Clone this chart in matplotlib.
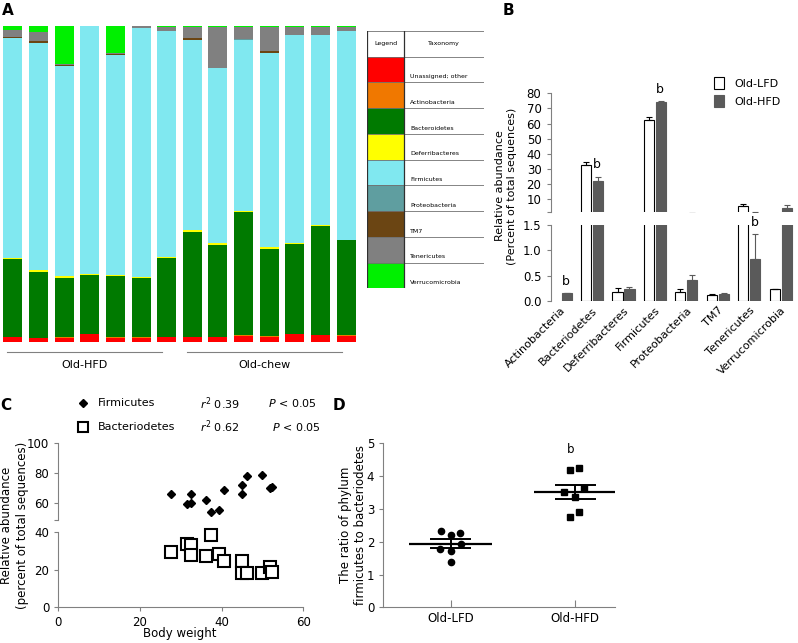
import matplotlib

matplotlib.use('Agg')

import matplotlib.pyplot as plt
import numpy as np
from matplotlib.patches import Patch, Rectangle
from matplotlib.lines import Line2D

W, H = 798, 643

# ---- Panel A: relative abundance per mouse (bottom -> top) ----
taxa = ["Unassigned; other", "Actinobacteria", "Bacteroidetes", "Deferribacteres",
        "Firmicutes", "Proteobacteria", "TM7", "Tenericutes", "Verrucomicrobia"]
taxa_colors = ["#FF0000", "#F07800", "#007A00", "#FFFF00", "#80E8F0",
               "#5F9EA0", "#6B4513", "#808080", "#00F000"]
unassigned = [1.4, 1.2, 1.3, 2.3, 1.3, 1.3, 1.4, 1.4, 1.4, 1.9, 1.4, 2.4, 2.0, 1.9]
actinobacteria = [0.1, 0.1, 0.1, 0.1, 0.3, 0.1, 0.1, 0.1, 0.1, 0.1, 0.3, 0.1, 0.1, 0.1]
bacteroidetes = [24.7, 20.8, 18.9, 18.7, 19.3, 18.7, 25.1, 33.3, 29.2, 39.0, 27.6, 28.5, 34.6, 30.1]
deferribacteres = [0.4, 0.5, 0.4, 0.3, 0.3, 0.3, 0.2, 0.6, 0.5, 0.5, 0.6, 0.2, 0.2, 0.2]
firmicutes = [69.5, 72.0, 66.5, 78.5, 69.6, 78.9, 71.6, 60.2, 55.4, 54.2, 61.6, 65.9, 60.2, 66.0]
proteobacteria = [0.1] * 14
tm7 = [0.4, 0.4, 0.4, 0.0, 0.3, 0.0, 0.0, 0.4, 0.0, 0.0, 0.5, 0.0, 0.0, 0.0]
tenericutes = [2.1, 2.9, 0.3, 0.0, 0.2, 0.6, 1.1, 3.5, 13.0, 3.9, 7.6, 2.4, 2.6, 1.2]
verrucomicrobia = [1.3, 2.0, 12.0, 0.0, 8.6, 0.0, 0.4, 0.4, 0.3, 0.3, 0.3, 0.4, 0.2, 0.4]
groups_a = ["Old-HFD", "Old-chew"]

# ---- Panel B: phylum abundance, mean and SEM ----
b_cats = ["Actinobacteria", "Bacteriodetes", "Deferribacteres", "Firmicutes",
          "Proteobacteria", "TM7", "Tenericutes", "Verrucomicrobia"]
lfd_mean = [0.0, 32.2, 0.18, 62.2, 0.18, 0.12, 5.4, 0.23]
lfd_err = [0.0, 2.2, 0.07, 1.8, 0.06, 0.01, 1.1, 0.0]
hfd_mean = [0.15, 22.2, 0.23, 74.0, 0.41, 0.14, 0.82, 4.2]
hfd_err = [0.01, 2.2, 0.05, 0.6, 0.10, 0.01, 0.50, 1.8]
b_sig = [(0, 0.38), (1, 32.6), (3, 82.6), (6, 1.54)]  # (category, height) of "b" on HFD bar

# ---- Panel C: abundance vs body weight ----
body_weight = [27.5, 31.6, 32.4, 32.4, 36.2, 37.3, 39.4, 40.6, 45.0, 45.0, 46.1, 50.0, 51.9, 52.3]
firm_pct = [66.0, 59.5, 66.0, 60.0, 62.2, 54.2, 55.5, 68.9, 72.0, 66.0, 78.2, 79.0, 70.0, 71.0]
bact_pct = [29.3, 33.7, 33.2, 27.8, 27.3, 38.5, 28.2, 24.5, 24.5, 18.4, 18.4, 18.2, 21.3, 18.8]

# ---- Panel D: Firmicutes / Bacteroidetes ratio ----
d_groups = ["Old-LFD", "Old-HFD"]
ratio_lfd = [2.33, 2.20, 2.26, 1.92, 1.77, 1.72, 1.39]
ratio_hfd = [4.19, 4.25, 3.52, 3.63, 3.37, 2.76, 2.90]

plt.rcParams.update({
    'font.family': 'DejaVu Sans',
    'font.size': 8,
    'axes.edgecolor': '#808080',
    'axes.linewidth': 0.8,
    'xtick.color': '#808080',
    'ytick.color': '#808080',
    'xtick.labelcolor': 'black',
    'ytick.labelcolor': 'black',
    'xtick.major.size': 3,
    'ytick.major.size': 3,
})

fig = plt.figure(figsize=(W / 100, H / 100), dpi=100)


def px_axes(l, t, r, b):
    """Axes from pixel box (left, top, right, bottom), origin top-left."""
    return fig.add_axes([l / W, 1 - b / H, (r - l) / W, (b - t) / H])


def panel_letter(x, y, s):
    fig.text(x / W, 1 - y / H, s, fontsize=11, fontweight='bold', va='top', ha='left')


# ================= A =================
axA = px_axes(0, 26, 359, 341.7)
comp = [unassigned, actinobacteria, bacteroidetes, deferribacteres, firmicutes,
        proteobacteria, tm7, tenericutes, verrucomicrobia]
xa = np.arange(len(unassigned))
bottom = np.zeros(len(xa))
for vals, col in zip(comp, taxa_colors):
    axA.bar(xa, vals, 0.74, bottom=bottom, color=col, linewidth=0)
    bottom += np.array(vals)
axA.set_xlim(-0.5, 13.5)
axA.set_ylim(0, 100)
axA.axis('off')
tr = axA.get_xaxis_transform()
for (x0, x1), name in zip([(-0.23, 5.81), (6.81, 12.84)], groups_a):
    axA.plot([x0, x1], [-0.034, -0.034], color='#808080', lw=0.8, transform=tr, clip_on=False)
    axA.text((x0 + x1) / 2, -0.074, name, transform=tr, ha='center', va='center', fontsize=8)

# legend table
axT = px_axes(367.3, 31, 484.3, 288.3)
axT.set_xlim(0, 1)
axT.set_ylim(10, 0)
axT.axis('off')
split = 0.314
for i, (name, col) in enumerate(zip(taxa, taxa_colors)):
    axT.add_patch(Rectangle((0, i + 1), split, 1, color=col, lw=0))
    axT.text(split + 0.05, i + 1.78, name, fontsize=4.5, va='center', ha='left')
for k in range(11):
    axT.plot([0, 1], [k, k], color='#707070', lw=0.6)
axT.plot([0, 0], [0, 10], color='#303030', lw=0.9)
axT.plot([split, split], [0, 10], color='#303030', lw=0.9)
axT.plot([1, 1], [0, 10], color='#707070', lw=0.6)
axT.text(split / 2, 0.5, "Legend", fontsize=4.5, ha='center', va='center')
axT.text((split + 1) / 2, 0.5, "Taxonomy", fontsize=4.5, ha='center', va='center')

# ================= B =================
xb = np.arange(len(b_cats))
off, bw = 0.19, 0.32
axBu = px_axes(550.5, 93.3, 795, 212.3)
axBl = px_axes(550.5, 225, 795, 301)
lfd_m = np.array(lfd_mean)
lfd_e = np.array(lfd_err)
hfd_m = np.array(hfd_mean)
hfd_e = np.array(hfd_err)
has_lfd = lfd_m > 0
for ax in (axBu, axBl):
    ax.bar(xb[has_lfd] - off, lfd_m[has_lfd], bw, color='white', edgecolor='black', linewidth=0.8,
           yerr=[np.zeros(has_lfd.sum()), lfd_e[has_lfd]], capsize=2.5,
           error_kw=dict(ecolor='black', elinewidth=0.8, capthick=0.8))
    ax.bar(xb + off, hfd_m, bw, color='#5A5A5A', edgecolor='#5A5A5A', linewidth=0.8,
           yerr=[np.zeros(len(xb)), hfd_e], capsize=2.5,
           error_kw=dict(ecolor='#5A5A5A', elinewidth=0.8, capthick=0.8))
    ax.set_xlim(-0.32, 7.45)
    for s in ('top', 'right', 'bottom'):
        ax.spines[s].set_visible(False)
    ax.tick_params(axis='y', labelsize=8.5, length=3)
axBu.set_ylim(1.2, 80)
axBu.set_yticks([1.2, 10, 20, 30, 40, 50, 60, 70, 80])
axBu.set_yticklabels([''] + [str(v) for v in range(10, 90, 10)])
axBu.set_xticks([])
axBl.set_ylim(0, 1.5)
axBl.set_yticks([0, 0.5, 1.0, 1.5])
axBl.set_yticklabels(['0.0', '0.5', '1.0', '1.5'])
axBl.set_xticks(xb)
axBl.set_xticklabels(b_cats, rotation=45, ha='right', rotation_mode='anchor', fontsize=8)
axBl.tick_params(axis='x', length=0, pad=3)
for cat, yv in b_sig:
    ax = axBu if yv > 1.6 else axBl
    ax.text(cat + off - 0.03, yv, 'b', ha='center', va='center', fontsize=9, clip_on=False)
fig.text(506 / W, 1 - 186 / H, "Relative abundance\n(Percent of total sequences)",
         rotation=90, ha='center', va='center', fontsize=8, linespacing=1.3)
axBu.legend(handles=[Patch(facecolor='white', edgecolor='black', lw=0.8, label='Old-LFD'),
                     Patch(facecolor='#5A5A5A', edgecolor='#5A5A5A', lw=0.8, label='Old-HFD')],
            loc='upper left', bbox_to_anchor=(714 / W, 1 - 77 / H), bbox_transform=fig.transFigure,
            frameon=False, fontsize=8, handlelength=0.9, handleheight=1.3, handletextpad=0.9,
            labelspacing=0.55, borderaxespad=0, borderpad=0)

# ================= C =================
axCu = px_axes(58.3, 443.3, 303.3, 520)
axCl = px_axes(58.3, 532.3, 303.3, 607.3)
axCu.set_ylim(48.9, 100)
axCl.set_ylim(0, 40)
bw_arr = np.array(body_weight)
firm_arr = np.array(firm_pct)
bact_arr = np.array(bact_pct)
for ax in (axCu, axCl):
    lo, hi = ax.get_ylim()
    fm = (firm_arr >= lo) & (firm_arr <= hi)
    bm = (bact_arr >= lo) & (bact_arr <= hi)
    ax.plot(bw_arr[fm], firm_arr[fm], 'D', color='black', ms=4.5, ls='none', clip_on=False)
    ax.plot(bw_arr[bm], bact_arr[bm], 's', mfc='white', mec='black', mew=1.5, ms=8, ls='none',
            clip_on=False)
    ax.set_xlim(0, 60)
    ax.set_ylim(lo, hi)
    for s in ('top', 'right'):
        ax.spines[s].set_visible(False)
    ax.tick_params(labelsize=8.5)
axCu.set_yticks([48.9, 60, 80, 100])
axCu.set_yticklabels(['', '60', '80', '100'])
axCu.spines['bottom'].set_visible(False)
axCu.set_xticks([])
axCl.set_yticks([0, 20, 40])
axCl.set_xticks([0, 20, 40, 60])
fig.text(180 / W, 1 - 633 / H, "Body weight", ha='center', va='center', fontsize=8.5)
fig.text(15 / W, 1 - 525 / H, "Relative abundance\n(percent of total sequences)",
         rotation=90, ha='center', va='center', fontsize=8.5, linespacing=1.3)
c_rows = [("Firmicutes", 'D', r"$\it{r}^2$ 0.39", 268), ("Bacteriodetes", 's', r"$\it{r}^2$ 0.62", 272)]
for i, (name, mk, r2, px_p) in enumerate(c_rows):
    yy = 1 - (403.3 + 23.4 * i) / H
    if mk == 'D':
        fig.add_artist(Line2D([82.7 / W], [yy], marker='D', color='black', ms=4.2,
                              transform=fig.transFigure))
    else:
        fig.add_artist(Line2D([82.7 / W], [yy], marker='s', mfc='white', mec='black', mew=1.5,
                              ms=7, transform=fig.transFigure))
    fig.text(98.3 / W, yy, name, va='center', ha='left', fontsize=8)
    fig.text(200 / W, yy, r2, va='center', ha='left', fontsize=8)
    fig.text(px_p / W, yy, r"$\it{P}$ < 0.05", va='center', ha='left', fontsize=8)

# ================= D =================
axD = px_axes(383.3, 443.3, 615, 607.3)
lfd_dx = [-0.08, 0.0, 0.075, 0.083, -0.086, 0.0, 0.0]
hfd_dx = [-0.04, 0.03, -0.09, 0.075, 0.0, -0.04, 0.03]
axD.plot(1 + np.array(lfd_dx), ratio_lfd, 'o', color='black', ms=4.5, ls='none')
axD.plot(2 + np.array(hfd_dx), ratio_hfd, 's', color='black', ms=5, ls='none')
for xc, vals in zip([1, 2], [ratio_lfd, ratio_hfd]):
    m = np.mean(vals)
    sem = np.std(vals, ddof=1) / np.sqrt(len(vals))
    axD.hlines(m, xc - 0.33, xc + 0.33, color='black', lw=1.6)
    axD.hlines([m - sem, m + sem], xc - 0.165, xc + 0.165, color='black', lw=1.4)
    axD.vlines(xc, m - sem, m + sem, color='black', lw=1.4)
axD.text(1.96, 4.8, 'b', ha='center', va='center', fontsize=8.5)
axD.set_xlim(0.46, 2.32)
axD.set_ylim(0, 5)
axD.set_yticks(range(6))
axD.set_xticks([1, 2])
axD.set_xticklabels(d_groups, fontsize=8.5)
axD.tick_params(axis='x', direction='in', length=5)
axD.tick_params(axis='y', labelsize=8.5)
for s in ('top', 'right'):
    axD.spines[s].set_visible(False)
fig.text(353 / W, 1 - 525 / H, "The ratio of phylum\nfirmicutes to bacteriodetes",
         rotation=90, ha='center', va='center', fontsize=8.5, linespacing=1.3)

panel_letter(2, 3, 'A')
panel_letter(503, 3, 'B')
panel_letter(0, 398, 'C')
panel_letter(333, 398, 'D')

fig.savefig('out.png', dpi=100, facecolor='white')
